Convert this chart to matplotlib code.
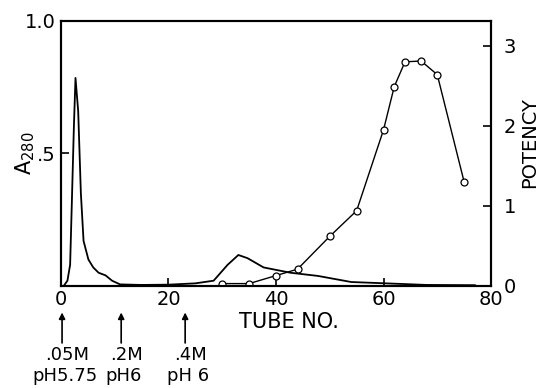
import numpy as np
import matplotlib
matplotlib.use("Agg")
import matplotlib.pyplot as plt

# absorbance at 280 nm
tube_a = [0, 0.5, 1.2, 1.7, 2.0, 2.4, 2.7, 3.2, 3.7, 4.2, 5.1, 6.0, 7.0, 8.3, 9.5,
          11.0, 15, 20, 25, 28.4, 31, 33, 34.7, 37.7, 42.7, 47.8, 54, 63, 68, 77]
a280 = [0, 0.0, 0.02, 0.08, 0.3, 0.6, 0.785, 0.66, 0.35, 0.17, 0.1, 0.07, 0.05, 0.04, 0.02,
        0.006, 0.004, 0.005, 0.01, 0.02, 0.08, 0.117, 0.105, 0.07, 0.05, 0.038, 0.015, 0.008, 0.004, 0.003]

# potency points (open circles)
tube_p = [30, 35, 40, 44, 50, 55, 60, 62, 64, 67, 70, 75]
potency = [0.03, 0.03, 0.13, 0.21, 0.62, 0.94, 1.95, 2.49, 2.8, 2.81, 2.64, 1.3]

# buffer steps marked under the axis
step_tube = [0.2, 11.2, 23.1]
step_conc = [".05M", ".2M", ".4M"]
step_ph = ["pH5.75", "pH6", "pH 6"]

x_ticks = [0, 20, 40, 60, 80]
left_ticks = [0.5, 1.0]
left_labels = [".5", "1.0"]
right_ticks = [0, 1, 2, 3]

plt.rcParams['font.family'] = ['DejaVu Sans']

fig = plt.figure(figsize=(5.44, 3.88), dpi=100)
ax = fig.add_axes([0.1121, 0.2629, 0.7905, 0.683])
ax2 = ax.twinx()

ax.plot(tube_a, a280, color='black', lw=1.3)
ax2.plot(tube_p, potency, color='black', lw=1.0, marker='o', ms=5,
         mfc='white', mec='black', mew=0.9)

ax.set_xlim(0, 80)
ax.set_ylim(0, 1.0)
ax2.set_ylim(0, 3.31)

for a in (ax, ax2):
    for s in a.spines.values():
        s.set_linewidth(1.5)

ax.set_xticks(x_ticks)
ax.set_xticklabels([str(t) for t in x_ticks])
ax.set_yticks(left_ticks)
ax.set_yticklabels(left_labels)
ax.tick_params(axis='both', direction='in', length=6, width=1.2, labelsize=14, pad=3)
ax.tick_params(axis='y', pad=4)

ax2.set_yticks(right_ticks)
ax2.set_yticklabels([str(t) for t in right_ticks])
ax2.tick_params(axis='y', direction='in', length=6, width=1.2, labelsize=14, pad=9)

ax.set_ylabel(r'A$_{280}$', fontsize=15, labelpad=0)
ax.yaxis.set_label_coords(-0.056, 0.5)
ax2.set_ylabel('POTENCY', fontsize=14)
ax2.yaxis.set_label_coords(1.068, 0.54)

ax.text(0.53, -0.135, 'TUBE NO.', transform=ax.transAxes, fontsize=15,
        ha='center', va='center')

tr = ax.get_xaxis_transform()
for x, c, p in zip(step_tube, step_conc, step_ph):
    ax.annotate('', xy=(x, -0.1), xycoords=tr, xytext=(x, -0.215), textcoords=tr,
                arrowprops=dict(arrowstyle='-|>', color='black', lw=1.2,
                                mutation_scale=9, shrinkA=0, shrinkB=0),
                annotation_clip=False)
    ax.text(x + 1.0, -0.262, c, transform=tr, fontsize=13, ha='center', va='center')
    ax.text(x + 0.5, -0.338, p, transform=tr, fontsize=13, ha='center', va='center')

fig.savefig('out.png', dpi=100)
